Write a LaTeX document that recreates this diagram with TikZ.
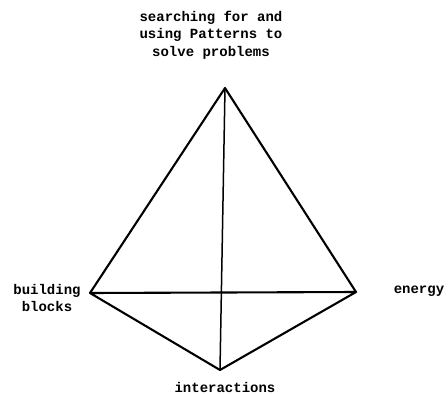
\documentclass[tikz,border=0pt]{standalone}
\usepackage{fontspec}
\setmonofont{Liberation Mono}
\begin{document}
\begin{tikzpicture}[x=1pt,y=-1pt,
  edge/.style={line width=2.1pt, line join=round, line cap=round},
  thin edge/.style={line width=1.5pt},
  lbl/.style={font=\ttfamily\bfseries\fontsize{14}{17.5}\selectfont, align=center, inner sep=0pt}]
\useasboundingbox (0,0) rectangle (448,394);
\coordinate (top) at (225,88);
\coordinate (left) at (90,293);
\coordinate (right) at (356,292);
\coordinate (bottom) at (220,370);
\draw[edge] (left) -- (top) -- (right) -- (bottom) -- (left) -- (right);
\draw[thin edge] (top) -- (bottom);
\node[lbl] (tlabel) at (211,35) {searching for and\\using Patterns to\\solve problems};
\node[lbl] (llabel) at (47,298) {building\\blocks};
\node[lbl] (rlabel) at (419,291) {energy};
\node[lbl] (blabel) at (225,387) {interactions};
\end{tikzpicture}
\end{document}
